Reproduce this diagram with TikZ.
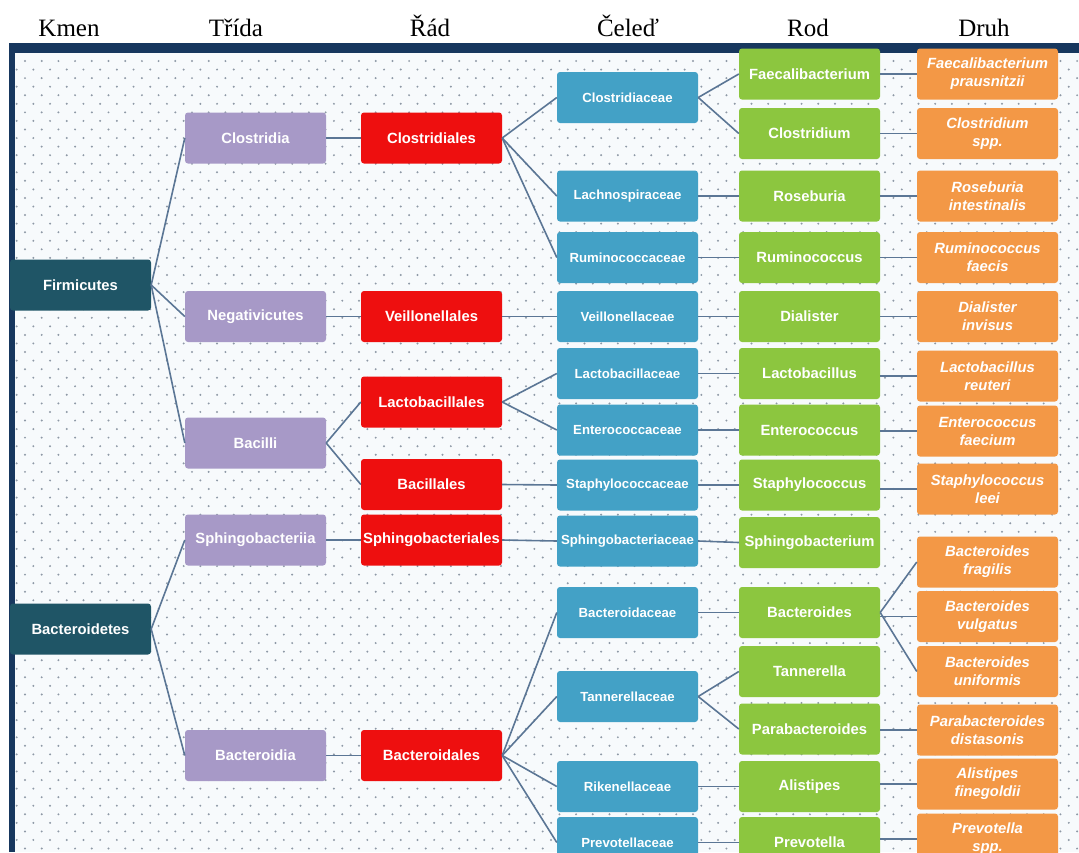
\documentclass[tikz,border=0pt]{standalone}
\usepackage{fontspec}
\setmainfont{Liberation Serif}
\newfontfamily\boxfont{Liberation Sans}
\usetikzlibrary{positioning}

\definecolor{framec}{HTML}{17375E}
\definecolor{paper}{HTML}{F7FAFC}
\definecolor{dotc}{HTML}{8E99A6}
\definecolor{linkc}{HTML}{5B7695}
\definecolor{kmenc}{HTML}{1F5566}
\definecolor{tridac}{HTML}{A799C7}
\definecolor{radc}{HTML}{EE0F0F}
\definecolor{celedc}{HTML}{43A1C6}
\definecolor{rodc}{HTML}{8CC63F}
\definecolor{druhc}{HTML}{F39846}

\begin{document}
\begin{tikzpicture}[
    x=1pt, y=-1pt,
    head/.style={anchor=base, font=\fontsize{25}{28}\selectfont},
    box/.style={rounded corners=3pt, minimum width=141pt, minimum height=51pt, inner sep=0pt, align=center, text=white, font=\boxfont\bfseries\fontsize{14.8}{17}\selectfont},
    kmen/.style={box, fill=kmenc},
    trida/.style={box, fill=tridac},
    rad/.style={box, fill=radc},
    celed/.style={box, fill=celedc, font=\boxfont\bfseries\fontsize{13.2}{16}\selectfont},
    rod/.style={box, fill=rodc},
    druh/.style={box, fill=druhc, font=\boxfont\bfseries\itshape\fontsize{14.8}{18}\selectfont},
    link/.style={draw=linkc, line width=1.6pt}
]
    \useasboundingbox (0,0) rectangle (1079,852);
    \clip (0,0) rectangle (1079,852);

    % frame and dotted paper
    \fill[framec] (9,43) rectangle (1079,852);
    \fill[paper] (15,53) rectangle (1079,852);
    \foreach \r in {0,...,93} {
        \pgfmathsetmacro{\yy}{61+8.56*\r}
        \pgfmathsetmacro{\xs}{25-8.35*mod(\r,2)}
        \fill[dotc] \foreach \c in {0,...,64} {({\xs+16.7*\c},\yy) circle[radius=1.1]};
    }

    % headings
    \node[head] (hkmen) at (69,36) {Kmen};
    \node[head] (htrida) at (236,36) {Třída};
    \node[head] (hrad) at (430,36) {Řád};
    \node[head] (hceled) at (628,36) {Čeleď};
    \node[head] (hrod) at (808,36) {Rod};
    \node[head] (hdruh) at (984,36) {Druh};

    % Kmen
    \node[kmen] (firm) at (80.5,285) {Firmicutes};
    \node[kmen] (bactd) at (80.5,629) {Bacteroidetes};

    % Trida
    \node[trida] (clost) at (255.5,138) {Clostridia};
    \node[trida] (negat) at (255.5,316.5) {Negativicutes};
    \node[trida] (bacilli) at (255.5,443) {Bacilli};
    \node[trida] (sphingo) at (255.5,540) {Sphingobacteriia};
    \node[trida] (bactdia) at (255.5,755.5) {Bacteroidia};

    % Rad
    \node[rad] (clostles) at (431.5,138) {Clostridiales};
    \node[rad] (veill) at (431.5,316.5) {Veillonellales};
    \node[rad] (lactoles) at (431.5,402) {Lactobacillales};
    \node[rad] (bacilles) at (431.5,484.5) {Bacillales};
    \node[rad] (sphingoles) at (431.5,540) {Sphingobacteriales};
    \node[rad] (bactdles) at (431.5,755.5) {Bacteroidales};

    % Celed
    \node[celed] (clostceae) at (627.5,97.5) {Clostridiaceae};
    \node[celed] (lachno) at (627.5,196) {Lachnospiraceae};
    \node[celed] (rumino) at (627.5,257.5) {Ruminococcaceae};
    \node[celed] (veillceae) at (627.5,316.5) {Veillonellaceae};
    \node[celed] (lactoceae) at (627.5,373.5) {Lactobacillaceae};
    \node[celed] (enteroceae) at (627.5,430) {Enterococcaceae};
    \node[celed] (staphceae) at (627.5,485) {Staphylococcaceae};
    \node[celed] (sphingoceae) at (627.5,541) {Sphingobacteriaceae};
    \node[celed] (bactdceae) at (627.5,612.5) {Bacteroidaceae};
    \node[celed] (tanneceae) at (627.5,696.5) {Tannerellaceae};
    \node[celed] (rikeceae) at (627.5,786.5) {Rikenellaceae};
    \node[celed] (prevoceae) at (627.5,842.5) {Prevotellaceae};

    % Rod
    \node[rod] (faecali) at (809.5,74) {Faecalibacterium};
    \node[rod] (clostrid) at (809.5,133.5) {Clostridium};
    \node[rod] (rosebur) at (809.5,196) {Roseburia};
    \node[rod] (ruminoc) at (809.5,257.5) {Ruminococcus};
    \node[rod] (dialist) at (809.5,316.5) {Dialister};
    \node[rod] (lactob) at (809.5,373.5) {Lactobacillus};
    \node[rod] (enteroc) at (809.5,430) {Enterococcus};
    \node[rod] (staphyl) at (809.5,485) {Staphylococcus};
    \node[rod] (sphingob) at (809.5,542.5) {Sphingobacterium};
    \node[rod] (bactoid) at (809.5,612.5) {Bacteroides};
    \node[rod] (tanner) at (809.5,671.5) {Tannerella};
    \node[rod] (parabac) at (809.5,729) {Parabacteroides};
    \node[rod] (alist) at (809.5,786.5) {Alistipes};
    \node[rod] (prevot) at (809.5,842.5) {Prevotella};

    % Druh
    \node[druh] (fprau) at (987.5,74) {Faecalibacterium\\prausnitzii};
    \node[druh] (cspp) at (987.5,133.5) {Clostridium\\spp.};
    \node[druh] (rint) at (987.5,196) {Roseburia\\intestinalis};
    \node[druh] (rfae) at (987.5,257.5) {Ruminococcus\\faecis};
    \node[druh] (dinv) at (987.5,316.5) {Dialister\\invisus};
    \node[druh] (lreu) at (987.5,376) {Lactobacillus\\reuteri};
    \node[druh] (efae) at (987.5,431) {Enterococcus\\faecium};
    \node[druh] (slee) at (987.5,489) {Staphylococcus\\leei};
    \node[druh] (bfra) at (987.5,562) {Bacteroides\\fragilis};
    \node[druh] (bvul) at (987.5,616.5) {Bacteroides\\vulgatus};
    \node[druh] (buni) at (987.5,671.5) {Bacteroides\\uniformis};
    \node[druh] (pdis) at (987.5,730) {Parabacteroides\\distasonis};
    \node[druh] (afin) at (987.5,784) {Alistipes\\finegoldii};
    \node[druh] (pspp) at (987.5,839) {Prevotella\\spp.};

    % connectors
    \foreach \a/\b in {firm/clost, firm/negat, firm/bacilli, bactd/sphingo, bactd/bactdia,
        clost/clostles, negat/veill, bacilli/lactoles, bacilli/bacilles, sphingo/sphingoles, bactdia/bactdles,
        clostles/clostceae, clostles/lachno, clostles/rumino, veill/veillceae, lactoles/lactoceae,
        lactoles/enteroceae, bacilles/staphceae, sphingoles/sphingoceae, bactdles/bactdceae,
        bactdles/tanneceae, bactdles/rikeceae, bactdles/prevoceae,
        clostceae/faecali, clostceae/clostrid, lachno/rosebur, rumino/ruminoc, veillceae/dialist,
        lactoceae/lactob, enteroceae/enteroc, staphceae/staphyl, sphingoceae/sphingob,
        bactdceae/bactoid, tanneceae/tanner, tanneceae/parabac, rikeceae/alist, prevoceae/prevot,
        bactoid/bfra, bactoid/buni}
        \draw[link] (\a.east) -- (\b.west);
    % straight links to the species
    \foreach \a/\b in {faecali/fprau, clostrid/cspp, rosebur/rint, ruminoc/rfae, dialist/dinv,
        lactob/lreu, enteroc/efae, staphyl/slee, bactoid/bvul, parabac/pdis, alist/afin, prevot/pspp}
        \draw[link] (\a.east |- \b.west) -- (\b.west);
\end{tikzpicture}
\end{document}
